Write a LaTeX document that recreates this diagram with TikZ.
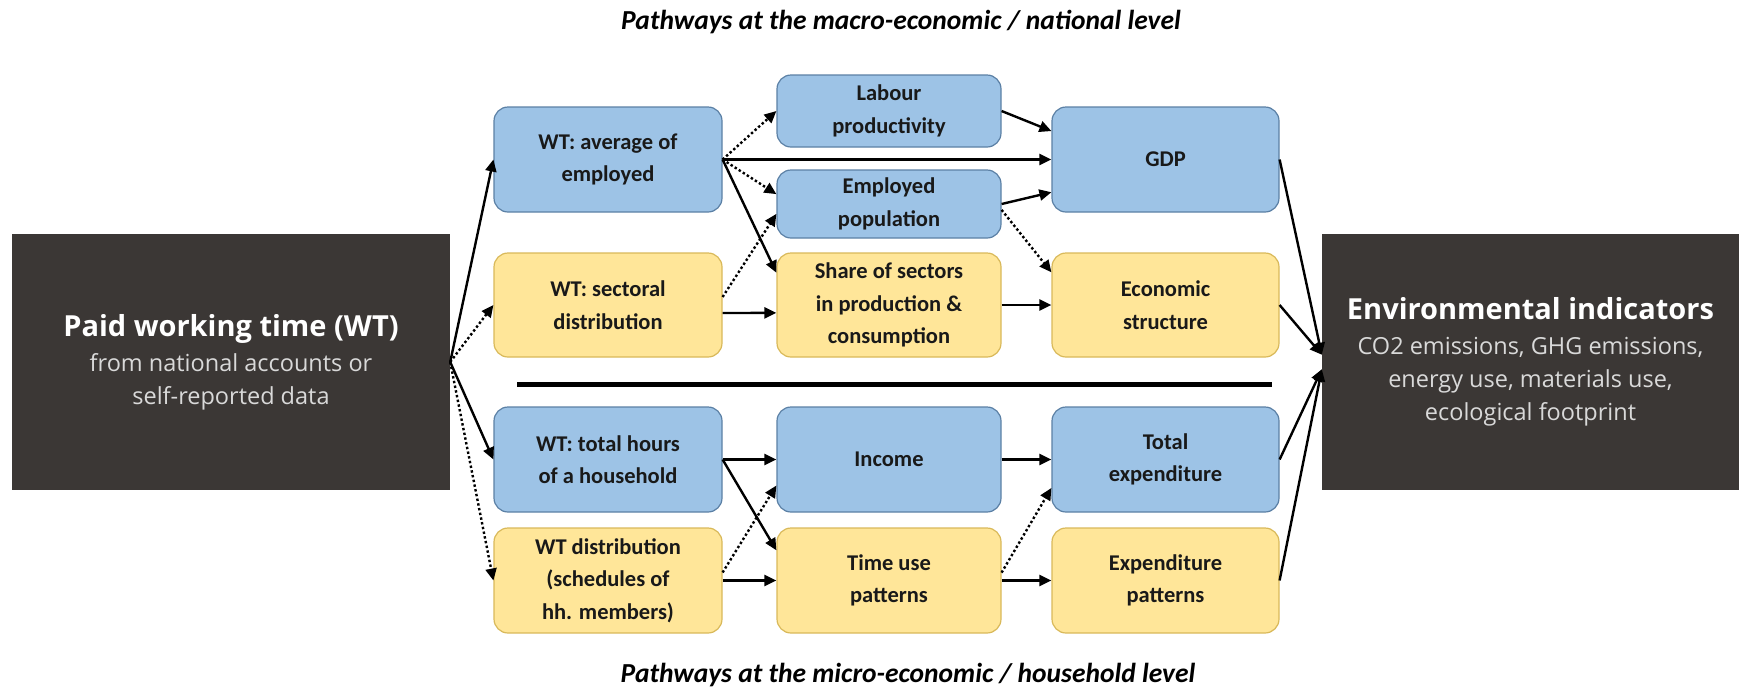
\documentclass[tikz,border=0pt]{standalone}
\usepackage{fontspec}
\setmainfont{Carlito}
\newfontfamily\endfont{Open Sans}
\usetikzlibrary{arrows.meta}

\definecolor{boxblue}{HTML}{9DC3E6}
\definecolor{edgeblue}{HTML}{5B80A5}
\definecolor{boxyellow}{HTML}{FFE699}
\definecolor{edgeyellow}{HTML}{D9B95A}
\definecolor{darkbox}{HTML}{3B3735}
\definecolor{subgray}{HTML}{D9D9D9}

% fonts of the two dark end boxes
\newcommand{\boxhead}{\endfont\fontsize{29}{36}\selectfont\bfseries\color{white}}
\newcommand{\boxnote}{\endfont\fontsize{23.5}{33}\selectfont}

\tikzset{
  pathbox/.style={rounded corners=14pt, line width=1.2pt, align=center, inner sep=0pt,
    text=black!90, font=\fontsize{22.5}{32.5}\selectfont\bfseries},
  bluebox/.style={pathbox, fill=boxblue, draw=edgeblue},
  yellowbox/.style={pathbox, fill=boxyellow, draw=edgeyellow},
  endbox/.style={fill=darkbox, align=center, inner sep=0pt, text=subgray, font=\boxnote},
  link/.style={line width=2.4pt, -{Triangle[length=12pt,width=11pt]}},
  weaklink/.style={link, dash pattern=on 2.4pt off 2.4pt},
  level/.style={font=\fontsize{27.5}{32}\selectfont\bfseries\itshape}
}

\begin{document}
\begin{tikzpicture}[x=1pt, y=-1pt]
  \useasboundingbox (0,0) rectangle (1739,689);

  % source and target
  \node[endbox, minimum width=438pt, minimum height=256pt] (paid) at (231,362)
    {{\boxhead Paid working time (WT)}\\[2pt] from national accounts or\\ self-reported data};
  \node[endbox, minimum width=417pt, minimum height=256pt] (env) at (1530.5,362)
    {{\boxhead Environmental indicators}\\[2pt] CO2 emissions, GHG emissions,\\ energy use, materials use,\\ ecological footprint};

  % macro level
  \node[bluebox, minimum width=228pt, minimum height=105pt] (avg) at (608,159.5) {WT: average of\\ employed};
  \node[yellowbox, minimum width=228pt, minimum height=104pt] (sect) at (608,305) {WT: sectoral\\ distribution};
  \node[bluebox, minimum width=224pt, minimum height=72pt] (labour) at (889,111) {Labour\\ productivity};
  \node[bluebox, minimum width=224pt, minimum height=68pt] (emp) at (889,204) {Employed\\ population};
  \node[yellowbox, minimum width=224pt, minimum height=104pt] (share) at (889,305) {Share of sectors\\ in production \&\\ consumption};
  \node[bluebox, minimum width=227pt, minimum height=105pt] (gdp) at (1165.5,159.5) {GDP};
  \node[yellowbox, minimum width=227pt, minimum height=104pt] (econ) at (1165.5,305) {Economic\\ structure};

  % micro level
  \node[bluebox, minimum width=228pt, minimum height=105pt] (tot) at (608,459.5) {WT: total hours\\ of a household};
  \node[yellowbox, minimum width=228pt, minimum height=105pt] (dist) at (608,580.5) {WT distribution\\ (schedules of\\ hh. members)};
  \node[bluebox, minimum width=224pt, minimum height=105pt] (inc) at (889,459.5) {Income};
  \node[yellowbox, minimum width=224pt, minimum height=105pt] (timeuse) at (889,580.5) {Time use\\ patterns};
  \node[bluebox, minimum width=227pt, minimum height=105pt] (totexp) at (1165.5,459.5) {Total\\ expenditure};
  \node[yellowbox, minimum width=227pt, minimum height=105pt] (exppat) at (1165.5,580.5) {Expenditure\\ patterns};

  % level captions and divider
  \node[level] (macro) at (901,22) {Pathways at the macro-economic / national level};
  \node[level] (micro) at (908,675) {Pathways at the micro-economic / household level};
  \coordinate (sepL) at (517,384);
  \coordinate (sepR) at (1272,384);
  \draw[line width=5pt] (sepL) -- (sepR);

  % from paid working time
  \draw[link] (paid.east) -- (avg.west);
  \draw[weaklink] (paid.east) -- (sect.west);
  \draw[link] (paid.east) -- (tot.west);
  \draw[weaklink] (paid.east) -- (dist.west);

  % macro pathways
  \draw[weaklink] (avg.east) -- (labour.west);
  \draw[link] (avg.east) -- (gdp.west);
  \draw[weaklink] (avg.east) -- (emp.175);
  \draw[link] (avg.east) -- (share.164);
  \draw[weaklink] (sect.4) -- (emp.185);
  \draw[link] (sect.-4) -- (share.184);
  \draw[link] (labour.east) -- (gdp.166);
  \draw[link] (emp.east) -- (gdp.196);
  \draw[weaklink] (emp.-3) -- (econ.164);
  \draw[link] (share.east) -- (econ.west);

  % micro pathways
  \draw[link] (tot.east) -- (inc.west);
  \draw[link] (tot.east) -- (timeuse.165);
  \draw[weaklink] (dist.4) -- (inc.193);
  \draw[link] (dist.east) -- (timeuse.west);
  \draw[link] (inc.east) -- (totexp.west);
  \draw[weaklink] (timeuse.4) -- (totexp.194);
  \draw[link] (timeuse.east) -- (exppat.west);

  % into the indicators
  \draw[link] (gdp.east) -- (env.178);
  \draw[link] (econ.east) -- (env.178);
  \draw[link] (totexp.east) -- (env.182);
  \draw[link] (exppat.east) -- (env.182);
\end{tikzpicture}
\end{document}
